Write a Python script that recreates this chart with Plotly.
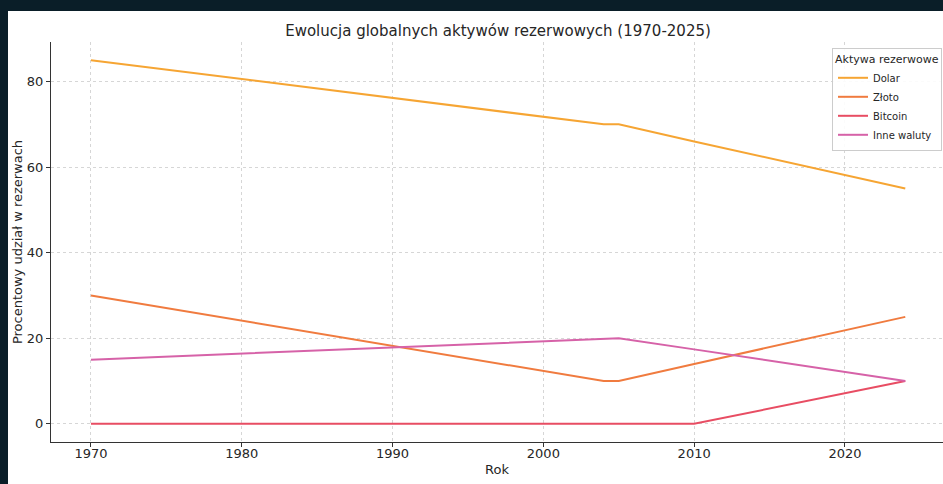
import plotly.graph_objects as go

years = [1970, 2004, 2005, 2010, 2024]
dolar = [85, 70, 70, 66, 55]
zloto = [30, 10, 10, 14, 25]
bitcoin = [0, 0, 0, 0, 10]
inne = [15, 20, 20, 17.4, 10]

series_names = ["Dolar", "Złoto", "Bitcoin", "Inne waluty"]
series_values = [dolar, zloto, bitcoin, inne]
colors = ["#f6a533", "#f07b3f", "#e84d63", "#d662a8"]

x_ticks = [1970, 1980, 1990, 2000, 2010, 2020]
y_ticks = [0, 20, 40, 60, 80]

W, H = 943, 484
L, R, T, B = 51, 0, 42, 42

fig = go.Figure()
for name, vals, c in zip(series_names, series_values, colors):
    fig.add_trace(go.Scatter(x=years, y=vals, mode="lines", name=name,
                             line=dict(color=c, width=2)))

font_family = "DejaVu Sans"
txt = "#262626"

pw = W - L - R
ph = H - T - B

fig.update_layout(
    width=W, height=H,
    margin=dict(l=L, r=R, t=T, b=B, pad=0),
    paper_bgcolor="white", plot_bgcolor="white",
    font=dict(family=font_family, size=13, color=txt),
    title=dict(text="Ewolucja globalnych aktywów rezerwowych (1970-2025)",
               x=(498 - L) / pw, xref="paper", xanchor="center",
               y=1 - 31 / H, yref="container", yanchor="middle",
               font=dict(size=15, color=txt)),
    xaxis=dict(range=[1967.35, 1967.35 + pw / 15.08], tickvals=x_ticks,
               showgrid=True, gridcolor="#d6d6d6", griddash="dot", gridwidth=1,
               showline=True, linecolor="#333333", linewidth=1.2,
               ticks="outside", ticklen=4, tickcolor="#333333",
               zeroline=False, mirror=False, automargin=False,
               ticklabelstandoff=-5,
               title=dict(text="Rok", standoff=5, font=dict(size=13, color=txt))),
    yaxis=dict(range=[-4.25, 89.25], tickvals=y_ticks,
               showgrid=True, gridcolor="#d6d6d6", griddash="dot", gridwidth=1,
               showline=True, linecolor="#333333", linewidth=1.2,
               ticks="outside", ticklen=4, tickcolor="#333333",
               zeroline=False, mirror=False, automargin=False,
               title=dict(text="Procentowy udział w rezerwach", standoff=1,
                          font=dict(size=13, color=txt))),
    legend=dict(title=dict(text="Aktywa rezerwowe", font=dict(size=11, color=txt)),
                x=(942 - L) / pw, xanchor="right", y=1 - (48 - T) / ph, yanchor="top",
                bgcolor="rgba(255,255,255,0.9)", bordercolor="#cccccc", borderwidth=1,
                font=dict(size=10, color=txt), tracegroupgap=0, itemwidth=30),
    showlegend=True,
)

dark = "#0a1e28"
fig.add_shape(type="rect", xref="paper", yref="paper",
              x0=-0.2, x1=(8 - L) / pw, y0=-0.3, y1=1.3,
              fillcolor=dark, line=dict(width=0), layer="above")
fig.add_shape(type="rect", xref="paper", yref="paper",
              x0=-0.2, x1=1.2, y0=(H - B - 11) / ph, y1=1.3,
              fillcolor=dark, line=dict(width=0), layer="above")

fig.write_html("out.html", config={"displayModeBar": False},
               post_script="document.body.style.margin='0';document.body.style.overflow='hidden';")
